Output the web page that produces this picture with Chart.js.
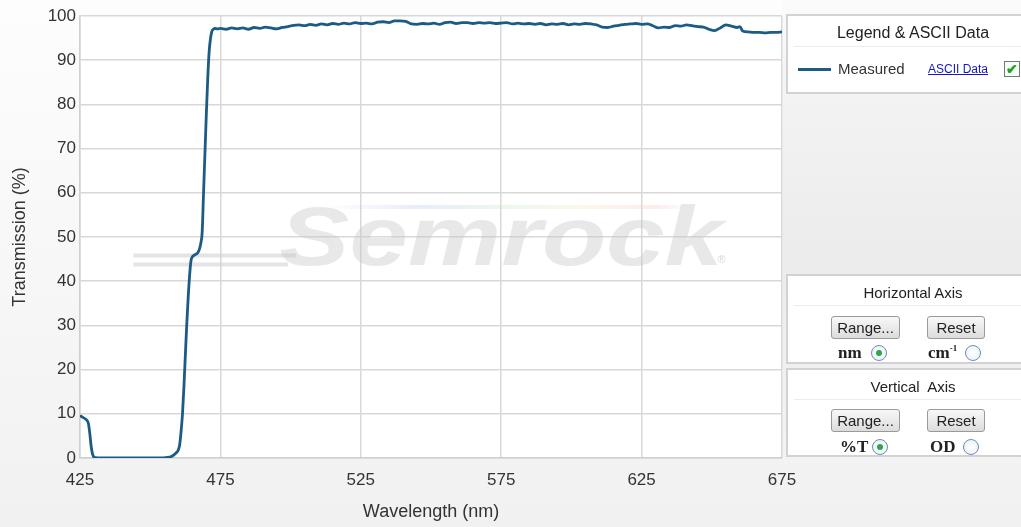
<!DOCTYPE html>
<html>
<head>
<meta charset="utf-8">
<script src="https://cdn.jsdelivr.net/npm/chart.js@4/dist/chart.umd.min.js"></script>
<style>
  html, body { margin:0; padding:0; width:1021px; height:527px; overflow:hidden;
    font-family: "Liberation Sans", Arial, sans-serif; color:#333;
    background: linear-gradient(to bottom, #fdfdfd 0%, #f6f6f6 60%, #f1f1f1 100%); }
  #wrap { position:absolute; left:0; top:0; width:810px; height:527px; }
  #side { position:absolute; left:783px; top:0; width:238px; height:462px;
    background: linear-gradient(to bottom, #fbfbfb 0%, #f3f3f3 20%, #ececec 55%, #f3f3f3 100%); }
  .panel { position:absolute; left:786px; width:250px; background:#fff; border:2px solid #d2d2d2; box-sizing:border-box; }
  .ptitle { position:absolute; left:0; width:250px; text-align:center; font-size:16px; color:#222; }
  .sep { position:absolute; left:6px; right:0; height:1px; background:#ececec; }
  .btn { position:absolute; height:23px; box-sizing:border-box; border:1px solid #9a9a9a; border-radius:3px;
    background: linear-gradient(to bottom, #f8f8f8, #dcdcdc); font-size:15px; line-height:21px; text-align:center; color:#222; }
  .unit { position:absolute; font-family:"Liberation Serif", "DejaVu Serif", serif; font-weight:bold; font-size:17px; color:#222; line-height:18px; white-space:nowrap; }
  .radio { position:absolute; width:16px; height:16px; border-radius:50%; box-sizing:border-box; border:1px solid #6a8fb5;
    background: radial-gradient(circle, #fff 0%, #e8eef5 100%); }
  .radio.on::after { content:""; position:absolute; left:4px; top:4px; width:6px; height:6px; border-radius:50%; background:#2da64a; }
</style>
</head>
<body>
<div id="side"></div>
<div id="wrap"><canvas id="c"></canvas></div>

<div class="panel" style="top:14px; height:80px;">
  <div class="ptitle" style="top:8px;">Legend &amp; ASCII Data</div>
  <div class="sep" style="top:30px;"></div>
  <div style="position:absolute; left:10px; top:52px; width:33px; height:3px; background:#1c5b84;"></div>
  <div style="position:absolute; left:50px; top:44px; font-size:15px; color:#333;">Measured</div>
  <div style="position:absolute; left:140px; top:46px; font-size:12px; color:#1515c8; text-decoration:underline;">ASCII Data</div>
  <div style="position:absolute; left:216px; top:45px; width:16px; height:16px; box-sizing:border-box; border:1px solid #777; background:#f4fff4; color:#2a9a2a; font-size:14px; line-height:14px; text-align:center; font-weight:bold;">✔</div>
</div>

<div class="panel" style="top:274px; height:90px;">
  <div class="ptitle" style="top:8px; font-size:15px;">Horizontal Axis</div>
  <div class="sep" style="top:29px;"></div>
  <div class="btn" style="left:43px; top:40px; width:69px;">Range...</div>
  <div class="btn" style="left:139px; top:40px; width:58px;">Reset</div>
  <div class="unit" style="left:50px; top:68px;">nm</div>
  <div class="radio on" style="left:83px; top:69px;"></div>
  <div class="unit" style="left:140px; top:68px;">cm<span style="font-size:9px; position:relative; top:-7px;">-1</span></div>
  <div class="radio" style="left:177px; top:69px;"></div>
</div>

<div class="panel" style="top:368px; height:89px;">
  <div class="ptitle" style="top:8px; font-size:15px;">Vertical&nbsp; Axis</div>
  <div class="sep" style="top:29px;"></div>
  <div class="btn" style="left:43px; top:39px; width:69px;">Range...</div>
  <div class="btn" style="left:139px; top:39px; width:58px;">Reset</div>
  <div class="unit" style="left:52px; top:68px;">%T</div>
  <div class="radio on" style="left:84px; top:69px;"></div>
  <div class="unit" style="left:142px; top:68px;">OD</div>
  <div class="radio" style="left:175px; top:69px;"></div>
</div>

<script>
// ---- Data ----
const wavelengths = [
  425, 426, 427, 427.5, 428, 428.5, 429, 429.5, 430, 431, 435, 440, 445, 450, 455, 457, 458, 459, 460,
  460.5, 461, 461.5, 462, 462.5, 463, 463.5, 464, 464.5, 465, 465.5, 466, 467, 467.5, 468, 468.5, 469,
  469.5, 470, 470.5, 471, 471.5, 472, 472.5, 473, 474,
  475, 477, 479, 481, 483, 485, 487, 489, 491, 493, 495, 497, 499, 501, 503, 505, 507, 509, 511, 513,
  515, 517, 519, 521, 523, 525, 527, 529, 531, 533, 535, 537, 539, 541, 543, 545, 547, 549, 551, 553,
  555, 557, 559, 561, 563, 565, 567, 569, 571, 573, 575, 577, 579, 581, 583, 585, 587, 589, 591, 593,
  595, 597, 599, 601, 603, 605, 607, 609, 611, 613, 615, 617, 619, 621, 623, 625, 627, 629, 631, 633,
  635, 637, 639, 641, 643, 645, 647, 649, 651, 653, 655, 657, 659, 660, 661, 663, 665, 667, 669, 671,
  673, 675
];
const transmission = [
  9.6, 9.2, 8.8, 8.5, 7.8, 5.5, 2.5, 0.8, 0.2, 0.05, 0, 0, 0, 0, 0.05, 0.2, 0.5, 1.0, 1.8,
  3, 6, 10, 16, 23, 30, 36, 41, 44.5, 45.5, 45.8, 46, 46.5, 47.2, 48.5, 51, 60,
  69, 78, 86, 92, 95, 96.6, 97, 97.2, 97.1,
  97.2, 97.0, 97.3, 97.1, 97.3, 97.0, 97.4, 97.2, 97.5, 97.3, 97.1, 97.4, 97.6, 97.9, 98.0, 97.8, 98.1, 97.9, 98.2, 98.0,
  98.3, 98.1, 98.4, 98.2, 98.5, 98.3, 98.4, 98.2, 98.6, 98.7, 98.5, 98.9, 98.9, 98.8, 98.2, 98.1, 98.3, 98.2, 98.4, 98.1,
  98.5, 98.6, 98.3, 98.5, 98.5, 98.3, 98.5, 98.4, 98.5, 98.3, 98.4, 98.5, 98.2, 98.4, 98.2, 98.3, 98.1, 98.3, 98.0, 98.2,
  98.1, 98.3, 98.0, 98.2, 98.1, 98.3, 98.2, 98.0, 97.5, 97.4, 97.7, 97.9, 98.1, 98.2, 98.3, 98.1, 98.2, 97.8, 97.3, 97.5,
  97.4, 97.8, 97.7, 98.0, 97.8, 97.6, 97.5, 97.0, 96.7, 97.3, 98.0, 97.7, 97.4, 97.6, 96.6, 96.4, 96.3, 96.3, 96.2, 96.3,
  96.3, 96.4
];
const xTickValues = [425, 475, 525, 575, 625, 675];
const yTickValues = [0, 10, 20, 30, 40, 50, 60, 70, 80, 90, 100];
const seriesName = "Measured";
const xTitle = "Wavelength (nm)";
const yTitle = "Transmission (%)";
const watermarkText = "Semrock";

const points = wavelengths.map((w, i) => ({ x: w, y: transmission[i] }));

const plotBg = {
  id: 'plotBg',
  beforeDraw(chart) {
    const { ctx, chartArea: a } = chart;
    ctx.save();
    ctx.fillStyle = '#ffffff';
    ctx.fillRect(a.left, a.top, a.right - a.left, a.bottom - a.top);
    ctx.restore();
  }
};

const watermark = {
  id: 'watermark',
  beforeDatasetsDraw(chart) {
    const { ctx } = chart;
    const xs = chart.scales.x, ys = chart.scales.y;
    ctx.save();
    // swoosh lines
    ctx.strokeStyle = 'rgba(205,205,205,0.55)';
    ctx.lineWidth = 4;
    ctx.beginPath();
    ctx.moveTo(xs.getPixelForValue(444), ys.getPixelForValue(45.8));
    ctx.lineTo(xs.getPixelForValue(502), ys.getPixelForValue(45.8));
    ctx.moveTo(xs.getPixelForValue(444), ys.getPixelForValue(43.8));
    ctx.lineTo(xs.getPixelForValue(499), ys.getPixelForValue(43.8));
    ctx.stroke();
    // rainbow line
    const rx1 = xs.getPixelForValue(512), rx2 = xs.getPixelForValue(643), ry = ys.getPixelForValue(56.8);
    const g = ctx.createLinearGradient(rx1, 0, rx2, 0);
    g.addColorStop(0, 'rgba(190,190,240,0.0)');
    g.addColorStop(0.25, 'rgba(190,200,245,0.35)');
    g.addColorStop(0.5, 'rgba(200,235,200,0.35)');
    g.addColorStop(0.7, 'rgba(245,235,190,0.35)');
    g.addColorStop(0.9, 'rgba(245,200,200,0.35)');
    g.addColorStop(1, 'rgba(245,200,200,0.0)');
    ctx.strokeStyle = g;
    ctx.lineWidth = 4;
    ctx.beginPath();
    ctx.moveTo(rx1, ry); ctx.lineTo(rx2, ry);
    ctx.stroke();
    // main word
    ctx.translate(xs.getPixelForValue(496), ys.getPixelForValue(43.6));
    ctx.scale(1.25, 1);
    ctx.font = 'italic bold 84px "Liberation Sans", Arial, sans-serif';
    ctx.fillStyle = 'rgba(200,200,200,0.42)';
    ctx.textBaseline = 'alphabetic';
    ctx.fillText(watermarkText, 0, 0);
    ctx.restore();
    ctx.save();
    ctx.font = '11px "Liberation Sans", Arial, sans-serif';
    ctx.fillStyle = 'rgba(190,190,190,0.6)';
    ctx.fillText('®', xs.getPixelForValue(652), ys.getPixelForValue(44.2));
    ctx.restore();
  }
};

new Chart(document.getElementById('c'), {
  type: 'line',
  data: {
    datasets: [{
      label: seriesName,
      data: points,
      borderColor: '#1c5b84',
      borderWidth: 2.8,
      pointRadius: 0,
      fill: false,
      cubicInterpolationMode: 'monotone'
    }]
  },
  options: {
    responsive: true,
    maintainAspectRatio: false,
    animation: false,
    layout: { padding: { top: 16, right: 28, left: 0, bottom: 0 } },
    plugins: { legend: { display: false }, tooltip: { enabled: false } },
    scales: {
      x: {
        type: 'linear', min: 425, max: 675,
        afterBuildTicks(s) { s.ticks = xTickValues.map(v => ({ value: v })); },
        afterFit(s) { s.height = 69; s.paddingLeft = 0; s.paddingRight = 0; },
        ticks: { color: '#333', font: { size: 17, family: '"Liberation Sans", Arial' }, padding: 12, maxRotation: 0 },
        grid: { color: '#d8d8d8', lineWidth: 1.5, drawTicks: false },
        border: { color: '#d0d0d0', width: 1.5 },
        title: { display: true, text: xTitle, color: '#333', font: { size: 18, family: '"Liberation Sans", Arial' }, padding: { top: 0, bottom: 4 } }
      },
      y: {
        min: 0, max: 100,
        afterBuildTicks(s) { s.ticks = yTickValues.map(v => ({ value: v })); },
        afterFit(s) { s.width = 80; s.paddingTop = 0; s.paddingBottom = 0; },
        ticks: { color: '#333', font: { size: 17, family: '"Liberation Sans", Arial' }, padding: 4 },
        grid: { color: '#d8d8d8', lineWidth: 1.5, drawTicks: false },
        border: { color: '#d0d0d0', width: 1.5 },
        title: { display: true, text: yTitle, color: '#333', font: { size: 18, family: '"Liberation Sans", Arial' }, padding: { top: 9, bottom: 0 } }
      }
    }
  },
  plugins: [plotBg, watermark]
});
</script>
</body>
</html>
